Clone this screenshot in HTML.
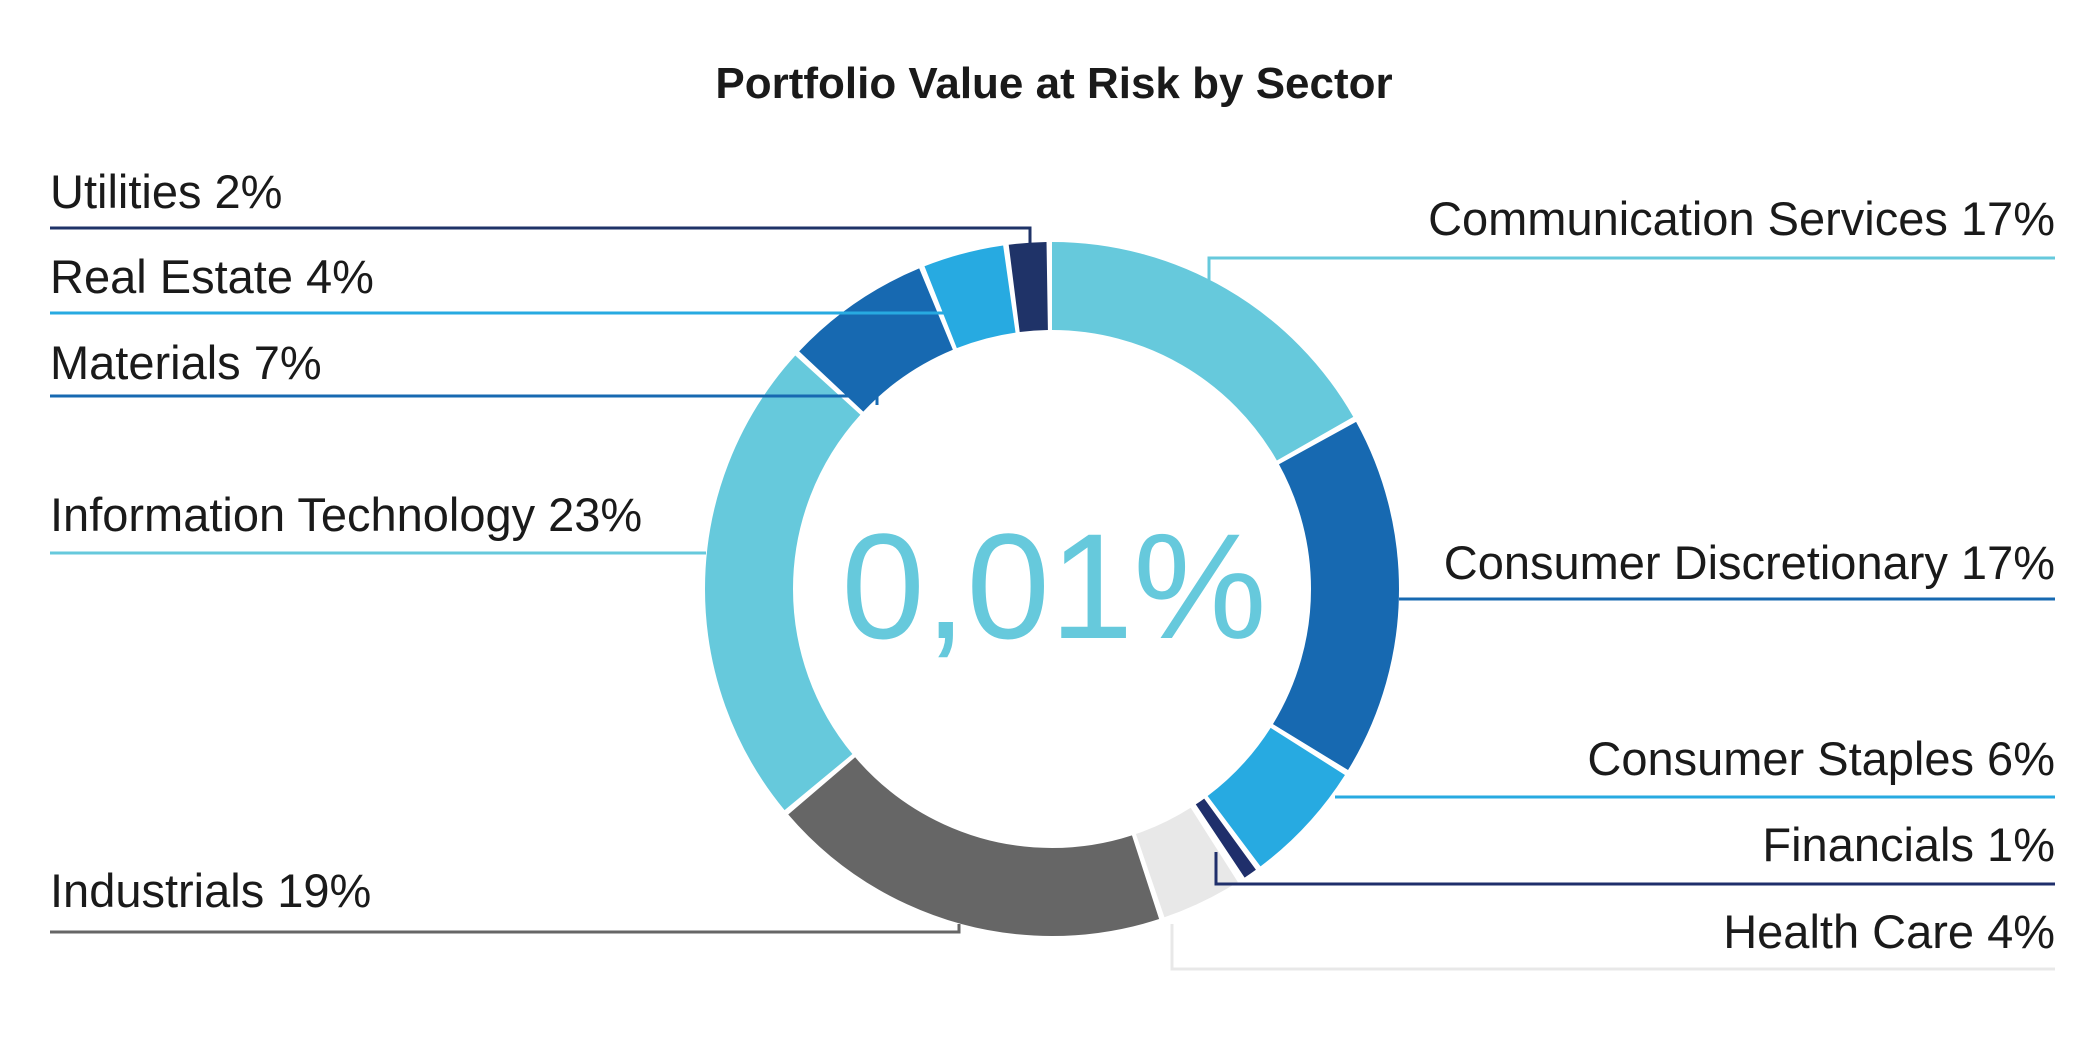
<!DOCTYPE html>
<html><head><meta charset="utf-8"><style>
html,body{margin:0;padding:0;background:#fff;}
svg{display:block;}
text{font-family:"Liberation Sans",sans-serif;fill:#1a1a1a;}
</style></head><body>
<svg width="2100" height="1044" viewBox="0 0 2100 1044" xmlns="http://www.w3.org/2000/svg">
<text x="1054" y="98" font-size="44" font-weight="bold" text-anchor="middle" fill="#222">Portfolio Value at Risk by Sector</text>
<g transform="rotate(-90 1052 589)" fill="none" stroke-width="88">
<circle cx="1052" cy="589" r="303" stroke="#66c9dc" stroke-dasharray="318.6 2000" stroke-dashoffset="0"/>
<circle cx="1052" cy="589" r="303" stroke="#1769b1" stroke-dasharray="318.6 2000" stroke-dashoffset="-323.6"/>
<circle cx="1052" cy="589" r="303" stroke="#27aae1" stroke-dasharray="109.2 2000" stroke-dashoffset="-647.3"/>
<circle cx="1052" cy="589" r="303" stroke="#1f2f6b" stroke-dasharray="12 2000" stroke-dashoffset="-761.5"/>
<circle cx="1052" cy="589" r="303" stroke="#e8e8e8" stroke-dasharray="71.2 2000" stroke-dashoffset="-780.6"/>
<circle cx="1052" cy="589" r="303" stroke="#666666" stroke-dasharray="356.7 2000" stroke-dashoffset="-856.7"/>
<circle cx="1052" cy="589" r="303" stroke="#66c9dc" stroke-dasharray="432.9 2000" stroke-dashoffset="-1218.4"/>
<circle cx="1052" cy="589" r="303" stroke="#1769b1" stroke-dasharray="128.3 2000" stroke-dashoffset="-1656.3"/>
<circle cx="1052" cy="589" r="303" stroke="#27aae1" stroke-dasharray="71.2 2000" stroke-dashoffset="-1789.6"/>
<circle cx="1052" cy="589" r="303" stroke="#1f3368" stroke-dasharray="33.1 2000" stroke-dashoffset="-1865.7"/>
</g>
<text x="1054" y="638" font-size="150" font-weight="300" text-anchor="middle" style="fill:#66c9dc">0,01%</text>
<g fill="none" stroke-width="3">
<polyline points="50,228 1030,228 1030,248" stroke="#1f3368"/>
<polyline points="50,313 948,313" stroke="#27aae1"/>
<polyline points="50,396 877,396 877,405" stroke="#1769b1"/>
<polyline points="50,553 706,553" stroke="#66c9dc"/>
<polyline points="50,932 959,932 959,924" stroke="#666666"/>
<polyline points="2055,258 1209,258 1209,282" stroke="#66c9dc"/>
<polyline points="2055,599 1399,599" stroke="#1769b1"/>
<polyline points="2055,797 1335,797" stroke="#27aae1"/>
<polyline points="2055,884 1216,884 1216,852" stroke="#1f2f6b"/>
<polyline points="2055,969 1172,969 1172,924" stroke="#e8e8e8"/>
</g>
<g font-size="47">
<text x="50" y="208">Utilities 2%</text>
<text x="50" y="293">Real Estate 4%</text>
<text x="50" y="379">Materials 7%</text>
<text x="50" y="531">Information Technology 23%</text>
<text x="50" y="907">Industrials 19%</text>
<text x="2055" y="235" text-anchor="end">Communication Services 17%</text>
<text x="2055" y="579" text-anchor="end">Consumer Discretionary 17%</text>
<text x="2055" y="775" text-anchor="end">Consumer Staples 6%</text>
<text x="2055" y="861" text-anchor="end">Financials 1%</text>
<text x="2055" y="948" text-anchor="end">Health Care 4%</text>
</g>
</svg>
</body></html>
